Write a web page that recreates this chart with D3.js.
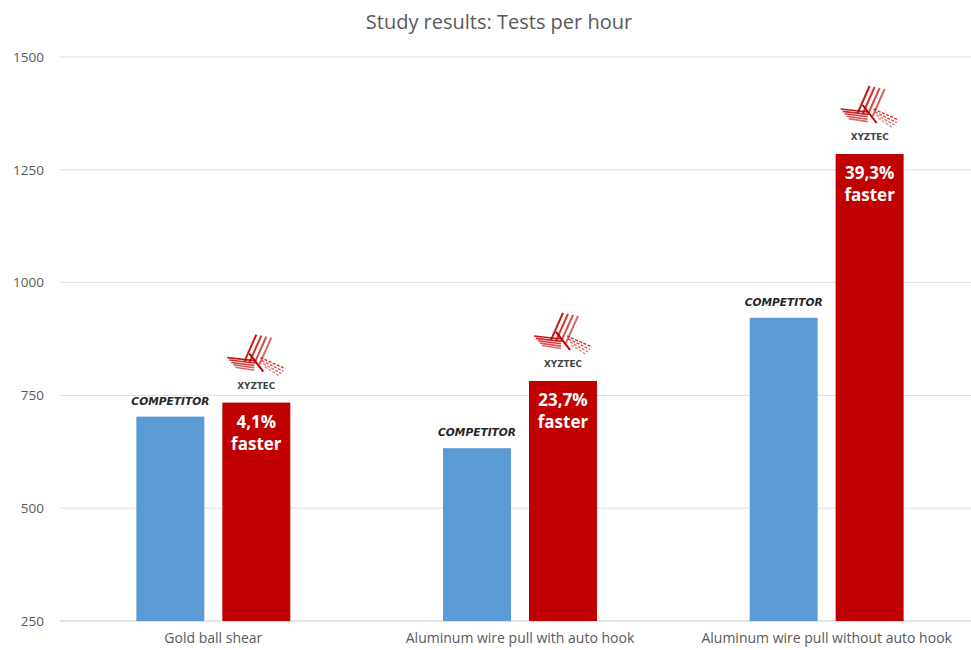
<!DOCTYPE html>
<html>
  <meta charset="utf-8" />
  <script src="https://d3js.org/d3.v7.min.js"></script>
  <style>
    body { margin: 0; background: #fff; }
  </style>
  <body>
    <svg id="chart" width="971" height="650"></svg>
    <script>
      // chart data
      var categories = ["Gold ball shear", "Aluminum wire pull with auto hook", "Aluminum wire pull without auto hook"]
      var series = ["competitor", "xyztec"]
      var competitor = [703, 633, 922]
      var xyztec = [734, 782, 1285]
      var fasterLabels = ["4,1%", "23,7%", "39,3%"]
      var yTicks = [250, 500, 750, 1000, 1250, 1500]

      var svg = d3.select("#chart"),
        width = +svg.attr("width"),
        height = +svg.attr("height")

      var blue = "#5b9bd5", red = "#c00000", grey = "#595959"

      // scales
      var x0 = d3.scaleBand().domain(categories).range([60, 980])
        .paddingInner(0.498).paddingOuter(0.249)
      var x1 = d3.scaleBand().domain(series).range([0, x0.bandwidth()])
        .paddingInner(0.2093)
      var y = d3.scaleLinear().domain([250, 1500]).range([621, 57])

      // title
      svg.append("text")
        .attr("x", 499).attr("y", 29)
        .attr("text-anchor", "middle")
        .style("font-family", "'Open Sans', sans-serif")
        .style("font-size", "20px")
        .style("fill", grey)
        .text("Study results: Tests per hour")

      // gridlines
      svg.append("g").selectAll("line")
        .data(yTicks)
        .enter().append("line")
        .attr("x1", 60).attr("x2", 971)
        .attr("y1", d => y(d)).attr("y2", d => y(d))
        .style("stroke", d => d === 250 ? "#c8c8c8" : "#dcdcdc")
        .style("stroke-width", 1)

      // y axis labels
      var yAxis = d3.axisLeft(y).tickValues(yTicks).tickFormat(d3.format("d"))
        .tickSize(0).tickPadding(0)
      svg.append("g")
        .attr("transform", "translate(44,0)")
        .call(yAxis)
        .call(g => g.select(".domain").remove())
        .selectAll("text")
        .style("font-family", "'Open Sans', sans-serif")
        .style("font-size", "13.5px")
        .style("fill", grey)

      // x axis labels
      var xAxis = d3.axisBottom(x0).tickSize(0).tickPadding(0)
      svg.append("g")
        .attr("transform", "translate(0,633)")
        .call(xAxis)
        .call(g => g.select(".domain").remove())
        .selectAll("text")
        .style("font-family", "'Open Sans', sans-serif")
        .style("font-size", "14px")
        .style("fill", grey)

      var rows = categories.map((c, i) => ({ cat: c, competitor: competitor[i], xyztec: xyztec[i], label: fasterLabels[i] }))

      // bars
      var groups = svg.append("g").selectAll("g")
        .data(rows)
        .enter().append("g")
        .attr("transform", d => "translate(" + x0(d.cat) + ",0)")

      groups.append("rect")
        .attr("x", x1("competitor"))
        .attr("width", x1.bandwidth())
        .attr("y", d => y(d.competitor))
        .attr("height", d => y(250) - y(d.competitor))
        .style("fill", blue)

      groups.append("rect")
        .attr("x", x1("xyztec"))
        .attr("width", x1.bandwidth())
        .attr("y", d => y(d.xyztec))
        .attr("height", d => y(250) - y(d.xyztec))
        .style("fill", red)

      // competitor tag
      groups.append("text")
        .attr("x", x1("competitor") + x1.bandwidth() / 2)
        .attr("y", d => y(d.competitor) - 12)
        .attr("text-anchor", "middle")
        .attr("textLength", 78)
        .attr("lengthAdjust", "spacingAndGlyphs")
        .style("font-family", "'DejaVu Sans', sans-serif")
        .style("font-size", "10px")
        .style("font-weight", "bold")
        .style("font-style", "italic")
        .style("fill", "#262626")
        .text("COMPETITOR")

      // percentage labels inside red bar
      var cxRed = x1("xyztec") + x1.bandwidth() / 2
      groups.append("text")
        .attr("x", cxRed)
        .attr("y", d => y(d.xyztec) + 25)
        .attr("text-anchor", "middle")
        .style("font-family", "'Open Sans', sans-serif")
        .style("font-size", "17px")
        .style("font-weight", "bold")
        .style("fill", "#fff")
        .text(d => d.label)
      groups.append("text")
        .attr("x", cxRed)
        .attr("y", d => y(d.xyztec) + 47)
        .attr("text-anchor", "middle")
        .style("font-family", "'Open Sans', sans-serif")
        .style("font-size", "17px")
        .style("font-weight", "bold")
        .style("fill", "#fff")
        .text("faster")

      // little logo above the red bar
      var logo = groups.append("g")
        .attr("transform", d => "translate(" + cxRed + "," + y(d.xyztec) + ")")

      var diag = [0, 1, 2, 3]
      diag.forEach(i => {
        logo.append("line")
          .attr("x1", 0 + i * 5).attr("y1", -68 + i)
          .attr("x2", -12 + i * 5).attr("y2", -41 + i)
          .style("stroke", red).style("stroke-width", 2)
          .style("opacity", 0.9 - i * 0.1)
      })
      var hor = [0, 1, 2, 3, 4]
      hor.forEach(i => {
        logo.append("line")
          .attr("x1", -29 + i * 2).attr("y1", -45 + i * 2.4)
          .attr("x2", -2).attr("y2", -42 + i * 2.4)
          .style("stroke", red).style("stroke-width", 1.6)
          .style("opacity", 0.9 - i * 0.08)
      })
      logo.append("line")
        .attr("x1", -7).attr("y1", -49)
        .attr("x2", 7).attr("y2", -31)
        .style("stroke", red).style("stroke-width", 2)
      var right = [0, 1, 2, 3]
      right.forEach(i => {
        logo.append("line")
          .attr("x1", 4 + i * 1.5).attr("y1", -45 + i * 3)
          .attr("x2", 29 - i * 2).attr("y2", -34 + i * 2.5)
          .style("stroke", red).style("stroke-width", 1.4)
          .style("stroke-dasharray", "3,1.5")
          .style("opacity", 0.8 - i * 0.12)
      })
      logo.append("text")
        .attr("x", 0).attr("y", -14)
        .attr("text-anchor", "middle")
        .attr("textLength", 38)
        .attr("lengthAdjust", "spacingAndGlyphs")
        .style("font-family", "'DejaVu Sans', sans-serif")
        .style("font-size", "8.5px")
        .style("font-weight", "bold")
        .style("font-style", "normal")
        .style("fill", "#444")
        .text("XYZTEC")
    </script>
  </body>
</html>
